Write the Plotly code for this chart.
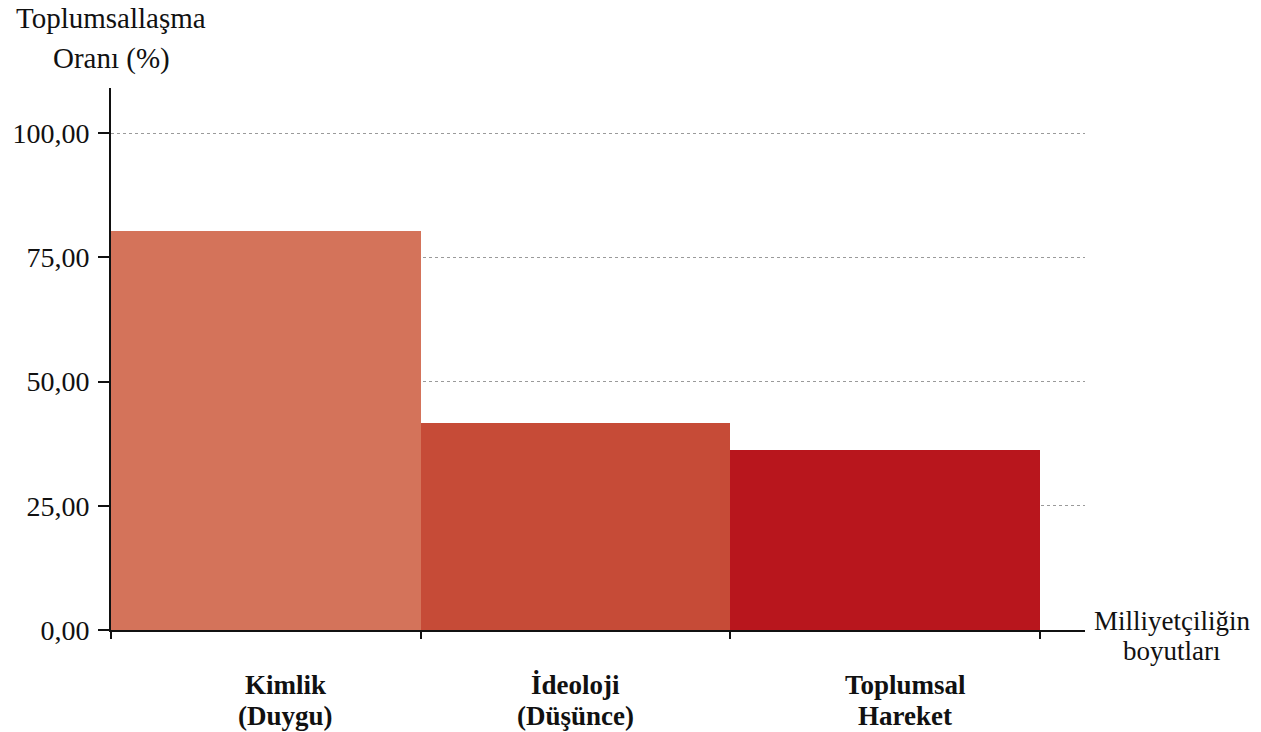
import plotly.graph_objects as go

# Milliyetçiliğin boyutlarına göre toplumsallaşma oranları
categories_line1 = ["Kimlik", "İdeoloji", "Toplumsal"]
categories_line2 = ["(Duygu)", "(Düşünce)", "Hareket"]
rates = [80.3, 41.6, 36.2]
bar_colors = ["#D4735A", "#C64B37", "#B8161D"]
y_ticks = [0, 25, 50, 75, 100]
y_tick_labels = ["0,00", "25,00", "50,00", "75,00", "100,00"]

FONT = "Liberation Serif"
positions = list(range(len(rates)))

fig = go.Figure()
fig.add_trace(go.Bar(
    x=positions, y=rates, width=1.0,
    marker=dict(color=bar_colors, line=dict(width=0)),
    hoverinfo="skip", showlegend=False,
))

# category labels, two lines each, bold
label_shift = [20, 0, 20]
cat_font = dict(family=FONT, size=27, color="#111")
for i, (a, b) in enumerate(zip(categories_line1, categories_line2)):
    fig.add_annotation(x=positions[i], xref="x", y=-0.102, yref="paper",
                       xanchor="center", yanchor="middle",
                       text=f"<b>{a}</b>", showarrow=False, xshift=label_shift[i],
                       font=cat_font)
    fig.add_annotation(x=positions[i], xref="x", y=-0.158, yref="paper",
                       xanchor="center", yanchor="middle",
                       text=f"<b>{b}</b>", showarrow=False, xshift=label_shift[i],
                       font=cat_font)

# axis titles
ytitle_font = dict(family=FONT, size=29, color="#111")
xtitle_font = dict(family=FONT, size=27, color="#111")
fig.add_annotation(x=0.0, xref="paper", y=1.129, yref="paper", text="Toplumsallaşma",
                   xanchor="center", yanchor="middle", showarrow=False, font=ytitle_font)
fig.add_annotation(x=0.0, xref="paper", y=1.055, yref="paper", text="Oranı (%)",
                   xanchor="center", yanchor="middle", showarrow=False, font=ytitle_font)
fig.add_annotation(x=1.089, xref="paper", y=0.017, yref="paper", text="Milliyetçiliğin",
                   xanchor="center", yanchor="middle", showarrow=False, font=xtitle_font)
fig.add_annotation(x=1.089, xref="paper", y=-0.039, yref="paper", text="boyutları",
                   xanchor="center", yanchor="middle", showarrow=False, font=xtitle_font)

fig.update_layout(
    width=1261, height=732,
    margin=dict(l=106, r=176, t=88, b=102),
    plot_bgcolor="white", paper_bgcolor="white",
    bargap=0,
    font=dict(family=FONT, size=26, color="#111"),
)
fig.update_xaxes(
    range=[-0.5, 2.645],
    showgrid=False, zeroline=False,
    showline=True, linecolor="#111", linewidth=2,
    tickmode="array", tickvals=[-0.5, 0.5, 1.5, 2.5],
    ticks="outside", ticklen=7, tickwidth=2, tickcolor="#111",
    showticklabels=False,
)
fig.update_yaxes(
    range=[0, 109.1],
    showgrid=True, gridcolor="#9a9a9a", gridwidth=1, griddash="dot",
    zeroline=False,
    showline=True, linecolor="#111", linewidth=2,
    tickmode="array", tickvals=y_ticks, ticktext=y_tick_labels,
    ticks="outside", ticklen=11, tickwidth=2, tickcolor="#111",
    ticklabelstandoff=3,
    tickfont=dict(family=FONT, size=28, color="#111"),
)

fig.write_html("out.html")
